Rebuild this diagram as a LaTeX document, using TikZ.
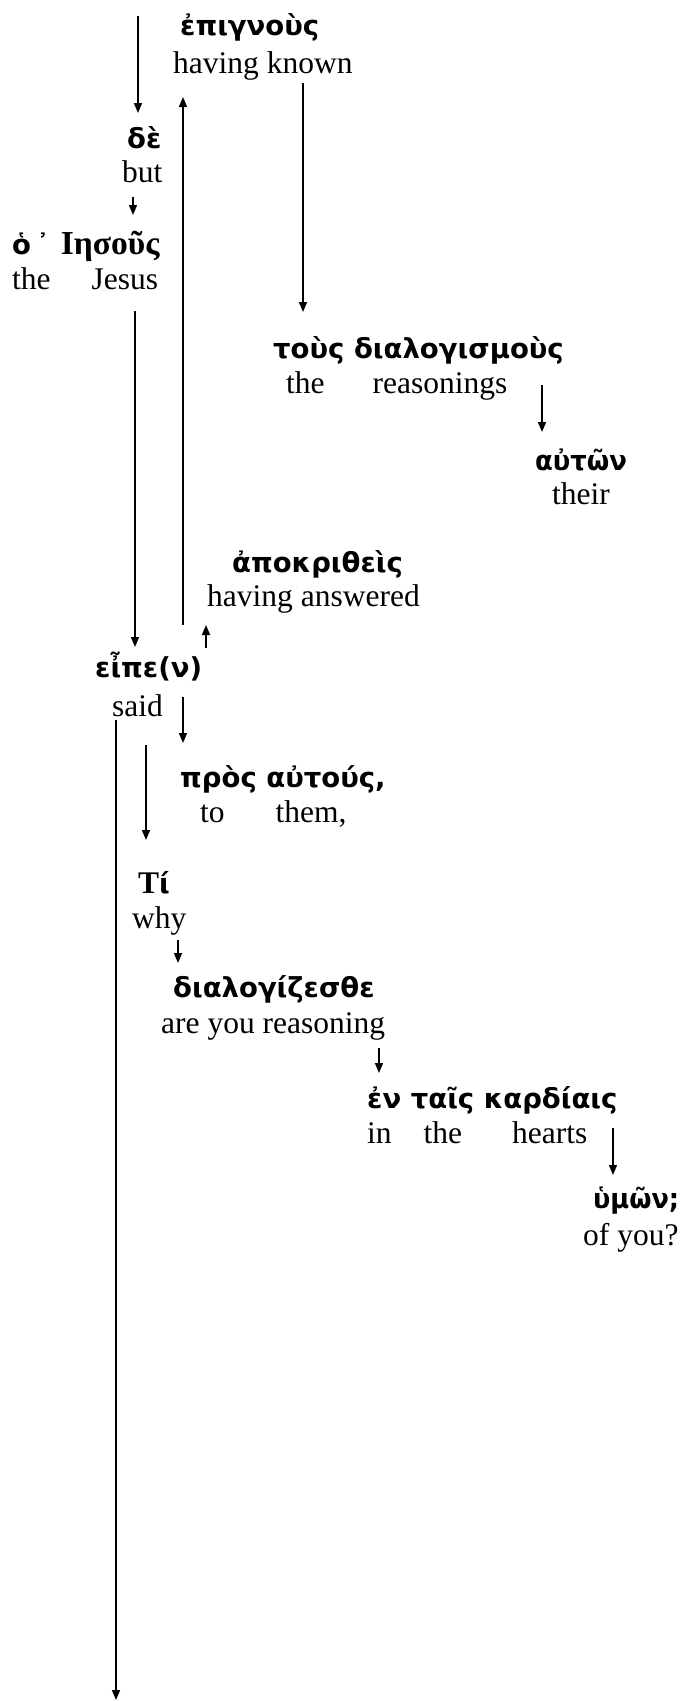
\documentclass[tikz,border=0pt]{standalone}
\usepackage{fontspec}
\setmainfont{Liberation Serif}
\newfontfamily\gkf{DejaVu Sans}
\newfontfamily\tgk{Liberation Serif}
\usetikzlibrary{arrows.meta}
\newcommand{\tbold}[2][31.5]{{\fontsize{#1}{36}\selectfont\tgk\bfseries #2}}
\begin{document}
\begin{tikzpicture}[x=1pt,y=-1pt,
  en/.style={anchor=base west,inner sep=0pt,font=\fontsize{31.5}{36}\selectfont},
  gr/.style={anchor=base west,inner sep=0pt,font=\fontsize{27.5}{32}\selectfont\gkf\bfseries},
  arr/.style={line width=1.5pt,-{Triangle[length=10pt,width=8pt]}}]
\useasboundingbox[fill=white] (0,0) rectangle (683,1701);
% texts
\node[gr] (g1) at (180,35) {ἐπιγνοὺς};
\node[en] (e1) at (173,73) {having known};
\node[gr] (g2) at (127,148) {δὲ};
\node[en] (e2) at (122,182) {but};
\node[gr] (g3) at (12,254) {ὁ\hspace{5pt}᾿\hspace{11pt}\tbold[33.5]{Ιησοῦς}};
\node[en] (e3) at (12,289) {the\hspace{41pt}Jesus};
\node[gr] (g4) at (273,358) {τοὺς διαλογισμοὺς};
\node[en] (e4) at (286,393) {the\hspace{48pt}reasonings};
\node[gr] (g5) at (535,470) {\scalebox{0.94}[1]{αὐτῶν}};
\node[en] (e5) at (552,504) {their};
\node[gr] (g6) at (232,572) {ἀποκριθεὶς};
\node[en] (e6) at (207,606) {having answered};
\node[gr] (g7) at (95,677) {εἶπε(ν)};
\node[en] (e7) at (112,716) {said};
\node[gr] (g8) at (180,787) {πρὸς αὐτούς,};
\node[en] (e8) at (200,822) {to\hspace{51pt}them,};
\node[gr] (g9) at (138,893) {\tbold{T}ί};
\node[en] (e9) at (132,928) {why};
\node[gr] (g10) at (173,997) {διαλογίζεσθε};
\node[en] (e10) at (161,1033) {are you reasoning};
\node[gr] (g11) at (367,1108) {ἐν ταῖς καρδίαις};
\node[en] (e11) at (367,1143) {in\hspace{32pt}the\hspace{50pt}hearts};
\node[gr] (g12) at (593,1208) {\scalebox{0.93}[1]{ὑμῶν;}};
\node[en] (e12) at (583,1245) {of you?};
% connector ends
\coordinate (a1s) at (138,16);   \coordinate (a1e) at (138,113);
\coordinate (a2s) at (133,197);  \coordinate (a2e) at (133,215);
\coordinate (a3s) at (183,625);  \coordinate (a3e) at (183,97);
\coordinate (a4s) at (303,83);   \coordinate (a4e) at (303,312);
\coordinate (a5s) at (542,385);  \coordinate (a5e) at (542,432);
\coordinate (a6s) at (135,311);  \coordinate (a6e) at (135,647);
\coordinate (a7s) at (206,648);  \coordinate (a7e) at (206,625);
\coordinate (a8s) at (183,697);  \coordinate (a8e) at (183,743);
\coordinate (a9s) at (146,745);  \coordinate (a9e) at (146,840);
\coordinate (a10s) at (178,940); \coordinate (a10e) at (178,963);
\coordinate (a11s) at (379,1048);\coordinate (a11e) at (379,1073);
\coordinate (a12s) at (613,1128);\coordinate (a12e) at (613,1175);
\coordinate (a13s) at (116,720); \coordinate (a13e) at (116,1700);
\foreach \i in {1,...,13} {\draw[arr] (a\i s) -- (a\i e);}
\end{tikzpicture}
\end{document}
